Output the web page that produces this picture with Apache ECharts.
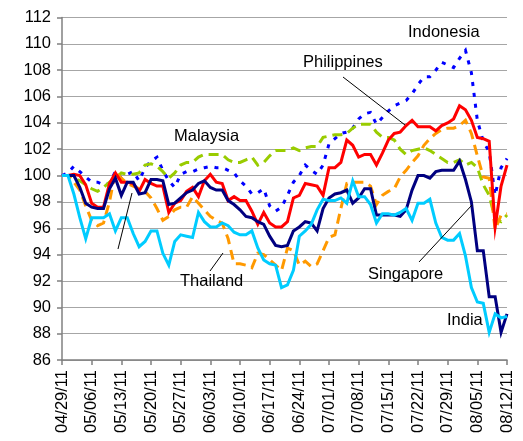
<!DOCTYPE html>
<html>
<head>
<meta charset="utf-8">
<script src="https://cdn.jsdelivr.net/npm/echarts@6/dist/echarts.min.js"></script>
<style>
  html, body { margin: 0; padding: 0; background: #fff; }
  #chart { width: 523px; height: 441px; }
</style>
</head>
<body>
<div id="chart"></div>
<script>
// Business days from 04/29/11 to 08/12/11; a label on every Friday
const startDate = new Date(2011, 3, 29);
const endDate = new Date(2011, 7, 12);

const indonesia = [100,100.2,100.7,100.3,99.9,99.5,99.5,99.3,99.4,100.3,
  99.8,100.1,100.3,99.6,100.6,101.1,101.4,100.4,99.6,99.1,
  100.1,100.3,100.3,100.5,100.6,100.7,100.6,100.6,100.4,100.2,
  99.6,99.2,98.6,98.7,99.0,97.7,97.3,97.6,98.5,99.5,
  100.0,100.8,100.4,100.1,100.8,102.4,102.8,103.2,103.3,103.6,
  104.3,104.7,104.8,103.9,104.4,104.9,105.3,105.5,105.7,106.2,
  106.9,107.5,107.5,108.0,108.6,108.4,108.2,108.9,109.5,107.8,
  104.2,102.6,101.8,98.5,100.6,101.3];

const malaysia = [100,100,99.8,99.6,99.3,99.0,98.8,99.1,99.5,99.8,
  100.2,100.1,100.1,100.2,100.8,100.9,100.7,100.3,99.8,100.2,
  100.8,101.0,101.0,101.4,101.6,101.6,101.6,101.6,101.2,101.0,
  101.0,101.2,101.4,100.8,101.0,101.5,101.9,101.9,101.9,102.1,
  101.9,102.1,102.2,102.2,102.9,103.0,103.1,103.1,103.2,103.6,
  103.9,103.9,103.9,103.3,102.9,102.9,102.7,102.0,101.6,101.9,
  102.0,102.1,101.9,101.6,101.3,101.0,101.0,101.2,100.8,101.0,
  100.6,99.3,98.5,96.7,96.5,97.0];

const thailand = [100,100,99.5,98.9,97.7,96.6,96.2,96.4,98.0,100.3,
  99.8,99.4,99.2,99.0,98.8,98.3,97.5,96.6,96.9,97.4,
  97.6,97.6,98.4,97.9,97.4,96.9,96.6,96.4,95.2,93.3,
  93.3,93.2,93.0,94.1,94.0,93.6,93.2,92.8,94.5,94.3,
  93.2,93.5,93.1,93.3,94.3,95.3,95.5,97.5,99.4,99.5,
  99.5,99.5,99.2,97.8,98.5,98.8,99.0,99.9,100.4,101.0,
  101.5,102.3,102.8,103.2,103.5,103.6,103.6,103.8,104.2,103.2,
  101.5,99.9,99.8,95.9,97.0,97.1];

const philippines = [100,100,100.1,100.0,99.3,97.9,97.6,97.6,99.4,100.2,
  99.5,99.5,99.4,98.8,99.7,99.4,99.2,99.2,97.2,97.9,
  98.1,98.8,99.1,98.4,99.6,100.1,99.5,99.4,98.1,98.4,
  98.1,98.1,97.3,96.3,97.2,96.4,96.1,96.1,96.5,98.3,
  98.5,99.4,99.3,99.2,98.5,100.6,100.6,101.0,102.7,102.3,
  101.4,101.6,101.6,100.8,101.7,102.7,103.2,103.3,103.8,104.2,
  103.7,103.7,103.7,103.4,103.8,104.0,104.3,105.3,105.0,104.2,
  102.9,102.8,102.6,96.1,99.2,100.8];

const singapore = [100,100,100,99.1,97.9,97.6,97.5,97.5,99.0,99.8,
  98.5,99.5,99.5,98.6,98.7,99.7,99.7,99.6,97.8,97.9,
  98.3,98.7,98.9,99.4,99.6,99.1,98.9,98.9,98.1,97.8,
  97.4,96.9,96.8,96.5,96.3,95.4,94.7,94.6,94.7,95.8,
  96.1,96.5,96.4,95.8,97.5,98.3,98.6,98.7,98.9,97.9,
  98.3,99.0,99.0,97.0,97.0,97.0,97.0,96.9,97.4,98.9,
  100.0,100.0,99.8,100.3,100.4,100.4,100.4,101.1,99.7,98.0,
  94.3,94.3,90.8,90.8,88.1,89.5];

const india = [100,100,98.6,96.8,95.2,96.8,96.8,96.8,97.1,95.8,
  96.8,96.8,95.6,94.6,95.0,95.8,95.8,94.1,93.2,95.0,
  95.5,95.4,95.3,97.2,96.5,96.1,96.1,96.4,96.2,95.7,
  95.5,95.5,95.8,94.5,93.6,93.3,93.2,91.5,91.7,92.8,
  95.4,95.8,96.3,97.4,98.2,98.1,98.1,98.3,97.9,99.6,
  98.4,98.4,97.8,96.4,97.1,97.1,97.0,97.2,97.5,96.6,
  97.9,97.9,98.2,96.4,95.3,95.1,95.1,95.6,93.9,91.5,
  90.4,90.3,88.1,89.5,89.2,89.3];

const FONT = "'Liberation Sans', Arial, sans-serif";

function pad2(n) { return (n < 10 ? '0' : '') + n; }

function buildDates() {
    const out = [];
    const d = new Date(startDate);
    while (d <= endDate) {
        const wd = d.getDay();
        if (wd !== 0 && wd !== 6) {
            out.push(pad2(d.getMonth() + 1) + '/' + pad2(d.getDate()) + '/' + pad2(d.getFullYear() % 100));
        }
        d.setDate(d.getDate() + 1);
    }
    return out;
}

const dates = buildDates();

function lineSeries(name, data, color, type, dash) {
    return {
        name: name,
        type: 'line',
        data: data,
        symbol: 'none',
        lineStyle: {
            color: color,
            width: 3,
            type: dash ? dash : type,
            cap: 'butt',
            join: 'miter',
        },
        z: 2,
    };
}

function label(text, x, y) {
    return {
        type: 'text', left: x, top: y - 9,
        style: { text: text, fill: '#000', font: '16.5px ' + FONT },
        z: 10,
    };
}

function leader(x1, y1, x2, y2) {
    return {
        type: 'line',
        shape: { x1: x1, y1: y1, x2: x2, y2: y2 },
        style: { stroke: '#000', lineWidth: 1 },
        z: 10,
    };
}

const chart = echarts.init(document.getElementById('chart'), null, { renderer: 'canvas' });

chart.setOption({
    animation: false,
    backgroundColor: '#fff',
    grid: { left: 62, right: 16, top: 17.5, bottom: 81, containLabel: false },
    xAxis: {
        type: 'category',
        data: dates,
        boundaryGap: false,
        axisLine: { lineStyle: { color: '#808080', width: 1.5 } },
        axisTick: { interval: 4, length: 5, lineStyle: { color: '#808080', width: 1.5 } },
        axisLabel: {
            interval: 4, rotate: 90, margin: 10,
            color: '#000', fontSize: 16.5, fontFamily: FONT,
        },
        splitLine: { show: false },
    },
    yAxis: {
        type: 'value',
        min: 86, max: 112, interval: 2,
        axisLine: { show: true, lineStyle: { color: '#808080', width: 1.5 } },
        axisTick: { show: true, length: 5, lineStyle: { color: '#808080', width: 1.5 } },
        axisLabel: { margin: 11, color: '#000', fontSize: 16.5, fontFamily: FONT },
        splitLine: { lineStyle: { color: '#a6a6a6', width: 1 } },
    },
    series: [
        lineSeries('Indonesia', indonesia, '#0000ff', 'dashed', [4, 7]),
        lineSeries('Malaysia', malaysia, '#99cc00', 'dashed', [10, 6]),
        lineSeries('Thailand', thailand, '#ff9900', 'dashed', [10, 6]),
        lineSeries('Philippines', philippines, '#ff0000', 'solid'),
        lineSeries('Singapore', singapore, '#000080', 'solid'),
        lineSeries('India', india, '#00ccff', 'solid'),
    ],
    graphic: [
        label('Indonesia', 408, 33),
        label('Philippines', 303, 63),
        label('Malaysia', 174, 137),
        label('Thailand', 180, 282),
        label('Singapore', 368, 275),
        label('India', 447, 321),
        leader(343, 77, 405, 125),
        leader(118, 249, 132, 193),
        leader(210, 271, 223, 253),
        leader(419, 262, 472, 205),
    ],
});
</script>
</body>
</html>
